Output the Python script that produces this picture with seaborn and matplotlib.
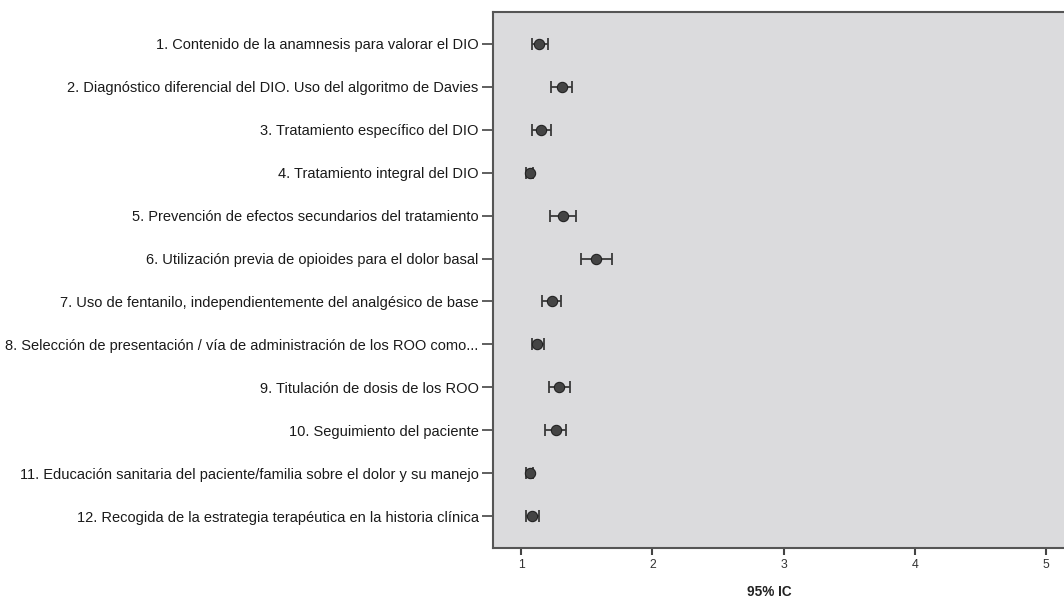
import numpy as np
import pandas as pd
import matplotlib
matplotlib.use("Agg")
import matplotlib.pyplot as plt
import seaborn as sns

# --- datos ---
items = [
    "1. Contenido de la anamnesis para valorar el DIO",
    "2. Diagnóstico diferencial del DIO. Uso del algoritmo de Davies",
    "3. Tratamiento específico del DIO",
    "4. Tratamiento integral del DIO",
    "5. Prevención de efectos secundarios del tratamiento",
    "6. Utilización previa de opioides para el dolor basal",
    "7. Uso de fentanilo, independientemente del analgésico de base",
    "8. Selección de presentación / vía de administración de los ROO como...",
    "9. Titulación de dosis de los ROO",
    "10. Seguimiento del paciente",
    "11. Educación sanitaria del paciente/familia sobre el dolor y su manejo",
    "12. Recogida de la estrategia terapéutica en la historia clínica",
]
media = [1.137, 1.308, 1.150, 1.064, 1.318, 1.571, 1.231, 1.122, 1.285, 1.262, 1.064, 1.084]
ic_inf = [1.079, 1.226, 1.084, 1.038, 1.219, 1.459, 1.160, 1.079, 1.211, 1.183, 1.038, 1.036]
ic_sup = [1.201, 1.386, 1.224, 1.092, 1.414, 1.690, 1.305, 1.170, 1.368, 1.343, 1.092, 1.135]

df = pd.DataFrame({"item": items, "media": media, "inf": ic_inf, "sup": ic_sup})
df["pos"] = np.arange(len(df))

sns.set_style("white")
plt.rcParams["font.family"] = ["Liberation Sans", "DejaVu Sans"]

fig = plt.figure(figsize=(10.64, 6.01), dpi=100)
ax = fig.add_axes([0.463, 0.0877, 0.537, 0.8928])
ax.set_facecolor("#dbdbdd")

# barras de error (IC 95%)
ax.errorbar(df["media"], df["pos"],
            xerr=[df["media"] - df["inf"], df["sup"] - df["media"]],
            fmt="none", ecolor="#3a3a3a", elinewidth=1.3, capsize=4, capthick=1.3, zorder=2)
sns.scatterplot(data=df, x="media", y="pos", ax=ax, s=55, color="#444444",
                edgecolor="#222222", linewidth=0.8, zorder=3, legend=False)

ax.set_xlim(0.782, 5.137)
ax.set_ylim(11.75, -0.75)
ax.set_yticks(df["pos"])
ax.set_yticklabels(df["item"], fontsize=10.5, color="#1a1a1a")
ax.set_xticks([1, 2, 3, 4, 5])
ax.set_xticklabels(["1", "2", "3", "4", "5"], fontsize=8.8, color="#333333")
ax.tick_params(axis="y", direction="out", length=8, width=1.2, color="#444444", pad=2, left=True)
ax.tick_params(axis="x", direction="out", length=5, width=1.5, color="#444444", pad=3, bottom=True)
ax.set_xlabel("")
ax.set_ylabel("")
for side in ["left", "bottom", "top"]:
    ax.spines[side].set_color("#555555")
    ax.spines[side].set_linewidth(1.5)
ax.spines["right"].set_visible(False)

fig.text(769 / 1064, 1 - 592 / 601, "95% IC", ha="center", va="center",
         fontsize=9.8, fontweight="bold", color="#222222")

fig.savefig("out.png", dpi=100)
